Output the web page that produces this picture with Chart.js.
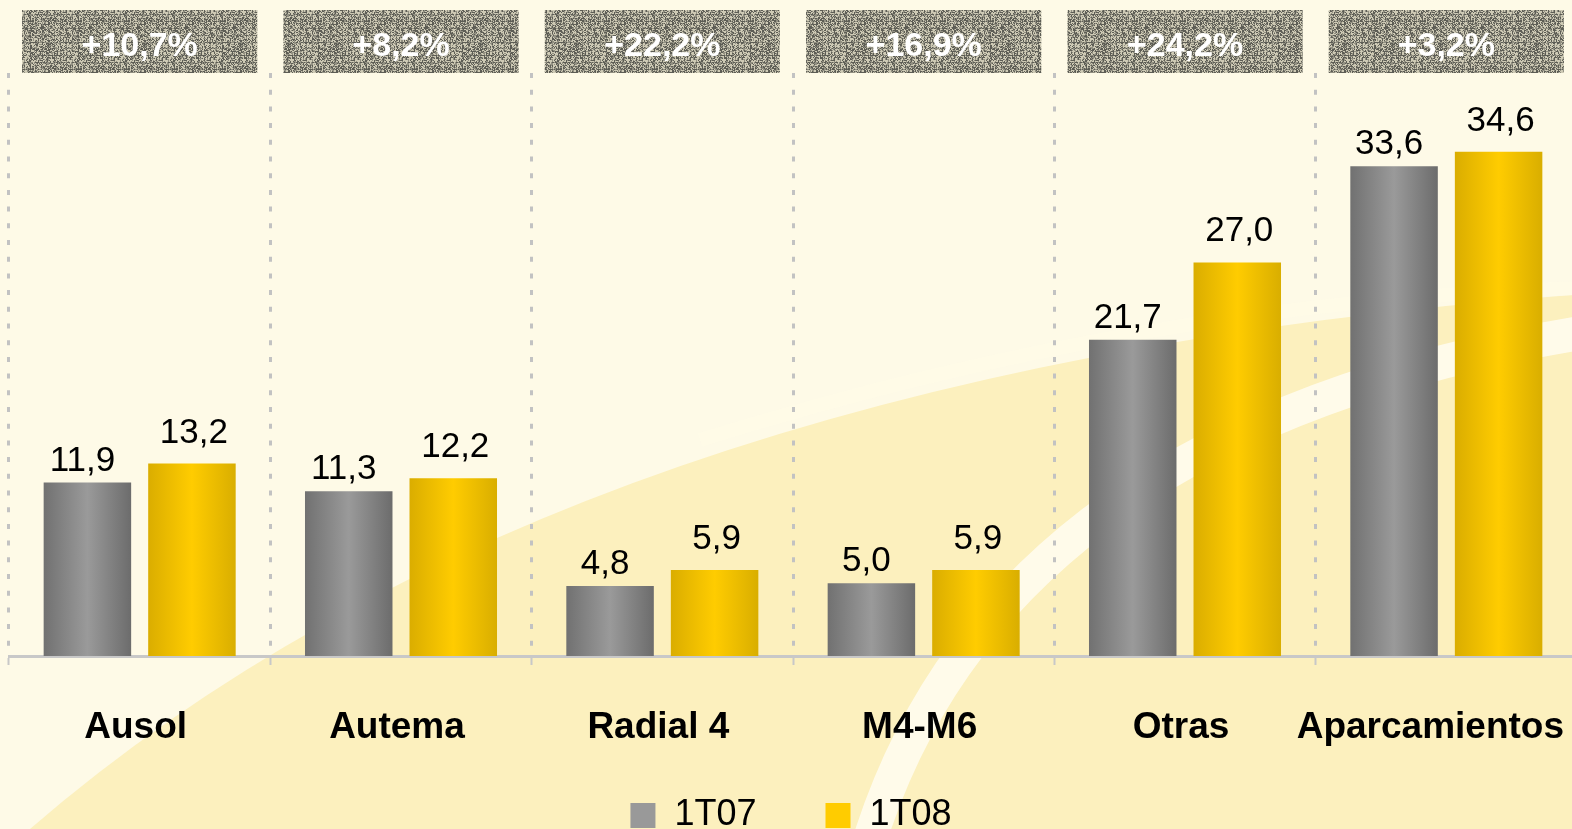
<!DOCTYPE html>
<html>
<head>
<meta charset="utf-8">
<script src="https://cdn.jsdelivr.net/npm/chart.js@4.4.1/dist/chart.umd.min.js"></script>
<style>
  html, body { margin: 0; padding: 0; background: #FEF9E6; overflow: hidden; }
  #wrap { width: 1572px; height: 829px; position: relative; overflow: hidden; }
  canvas { display: block; }
</style>
</head>
<body>
<div id="wrap"><canvas id="c" width="1580" height="829"></canvas></div>
<script>
// ---- data ----
const categories = ['Ausol', 'Autema', 'Radial 4', 'M4-M6', 'Otras', 'Aparcamientos'];
const seriesNames = ['1T07', '1T08'];
const values1T07 = [11.9, 11.3, 4.8, 5.0, 21.7, 33.6];
const values1T08 = [13.2, 12.2, 5.9, 5.9, 27.0, 34.6];
const growthLabels = ['+10,7%', '+8,2%', '+22,2%', '+16,9%', '+24,2%', '+3,2%'];

// ---- style ----
const VIEW_W = 1572;
const CAT_PCT = 0.80;
const BAR_PCT = 0.837;
const legendColors = ['#999999', '#FFCC00'];
const labelGap = [12, 21];
const labelShift = [-5, 2];
const gradStops = [
  [[0, '#717171'], [0.5, '#9A9A9A'], [1, '#6C6C6C']],
  [[0, '#DAAD00'], [0.5, '#FFCC00'], [1, '#D9AE00']]
];

// deterministic texture for the top boxes
function makeTexture() {
  const c = document.createElement('canvas');
  c.width = 48; c.height = 48;
  const g = c.getContext('2d');
  const img = g.createImageData(48, 48);
  for (let y = 0; y < 48; y++) {
    for (let x = 0; x < 48; x++) {
      let h = (x * 374761393 + y * 668265263) | 0;
      h = (h ^ (h >>> 13)) * 1274126177 | 0;
      h = h ^ (h >>> 16);
      let v = ((h >>> 0) % 1000) / 1000;
      if (x % 6 === 0 || y % 7 === 0) v *= 0.6;
      const t = v > 0.55 ? 0.85 : (v > 0.3 ? 0.45 : 0.1);
      const i = (y * 48 + x) * 4;
      img.data[i] = 78 + t * 150;
      img.data[i + 1] = 78 + t * 146;
      img.data[i + 2] = 72 + t * 128;
      img.data[i + 3] = 255;
    }
  }
  g.putImageData(img, 0, 0);
  return c;
}
const texture = makeTexture();

function barGradient(ctx, dsIndex) {
  const chart = ctx.chart;
  if (!chart.chartArea || !chart.scales.x) return legendColors[dsIndex];
  const xs = chart.scales.x;
  const cx = xs.getPixelForValue(ctx.dataIndex);
  const catW = xs.width / categories.length;
  const slot = catW * CAT_PCT / 2;
  const center = cx + (dsIndex === 0 ? -slot / 2 : slot / 2);
  const w = slot * BAR_PCT;
  const g = chart.ctx.createLinearGradient(center - w / 2, 0, center + w / 2, 0);
  gradStops[dsIndex].forEach(s => g.addColorStop(s[0], s[1]));
  return g;
}

const backgroundPlugin = {
  id: 'bg',
  beforeDraw(chart) {
    const c = chart.ctx, W = VIEW_W, H = chart.height;
    c.save();
    c.fillStyle = '#FEFAE7';
    c.fillRect(0, 0, chart.width, H);
    // big yellow swoosh
    c.beginPath();
    c.moveTo(30, H);
    c.quadraticCurveTo(560, 370, W, 295);
    c.lineTo(chart.width, 295);
    c.lineTo(chart.width, H);
    c.closePath();
    c.fillStyle = '#FCF0BE';
    c.fill();
    // light edge at the top of the swoosh
    c.beginPath();
    c.moveTo(700, 440);
    c.quadraticCurveTo(1150, 300, W + 8, 288);
    c.strokeStyle = 'rgba(255,251,232,0.6)';
    c.lineWidth = 14;
    c.stroke();
    // white band
    c.beginPath();
    c.moveTo(870, H + 10);
    c.quadraticCurveTo(1000, 430, W + 8, 333);
    c.strokeStyle = 'rgba(255,252,238,0.9)';
    c.lineWidth = 34;
    c.stroke();
    c.restore();
  }
};

const overlayPlugin = {
  id: 'overlay',
  afterDatasetsDraw(chart) {
    const c = chart.ctx;
    c.save();
    // value labels
    c.font = '35px "Liberation Sans", Arial, sans-serif';
    c.fillStyle = '#000';
    c.textAlign = 'center';
    c.textBaseline = 'alphabetic';
    chart.data.datasets.forEach((ds, di) => {
      chart.getDatasetMeta(di).data.forEach((el, i) => {
        const txt = ds.data[i].toFixed(1).replace('.', ',');
        c.fillText(txt, el.x + labelShift[di], el.y - labelGap[di]);
      });
    });
    c.restore();
  },
  afterDraw(chart) {
    const c = chart.ctx;
    const xs = chart.scales.x;
    const catW = xs.width / categories.length;
    c.save();
    // growth boxes
    const pat = c.createPattern(texture, 'repeat');
    growthLabels.forEach((lab, i) => {
      const cx = xs.getPixelForValue(i);
      const bw = catW * 0.9;
      c.fillStyle = pat;
      c.fillRect(cx - bw / 2, 10, bw, 63);
      c.font = 'bold 34px "Liberation Sans", Arial, sans-serif';
      c.fillStyle = '#FFFFFF';
      c.textAlign = 'center';
      c.textBaseline = 'alphabetic';
      c.fillText(lab, cx, 56);
    });
    // category labels
    c.font = 'bold 37px "Liberation Sans", Arial, sans-serif';
    c.fillStyle = '#000';
    c.textAlign = 'center';
    c.textBaseline = 'alphabetic';
    categories.forEach((lab, i) => {
      const w = c.measureText(lab).width;
      let x = xs.getPixelForValue(i) - 4;
      x = Math.min(x, VIEW_W - 8 - w / 2);
      c.fillText(lab, x, 738);
    });
    // legend
    c.font = '36px "Liberation Sans", Arial, sans-serif';
    const box = 25, gapText = 19, gapItem = 69;
    const widths = seriesNames.map(n => box + gapText + c.measureText(n).width);
    const total = widths.reduce((a, b) => a + b, 0) + gapItem * (seriesNames.length - 1);
    let x = VIEW_W / 2 + 5 - total / 2;
    c.textAlign = 'left';
    seriesNames.forEach((n, i) => {
      c.fillStyle = legendColors[i];
      c.fillRect(x, 803, box, box);
      c.fillStyle = '#000';
      c.fillText(n, x + box + gapText, 825);
      x += widths[i] + gapItem;
    });
    c.restore();
  }
};

new Chart(document.getElementById('c'), {
  type: 'bar',
  data: {
    labels: categories,
    datasets: [
      { label: seriesNames[0], data: values1T07, backgroundColor: ctx => barGradient(ctx, 0) },
      { label: seriesNames[1], data: values1T08, backgroundColor: ctx => barGradient(ctx, 1) }
    ]
  },
  options: {
    responsive: false,
    devicePixelRatio: 1,
    animation: false,
    events: [],
    categoryPercentage: CAT_PCT,
    barPercentage: BAR_PCT,
    layout: { padding: { left: 9, right: 3, top: 73, bottom: 164 } },
    plugins: { legend: { display: false }, tooltip: { enabled: false } },
    scales: {
      x: {
        offset: true,
        grid: {
          display: true,
          offset: true,
          color: '#C2C2C2',
          lineWidth: 3,
          drawTicks: true,
          tickLength: 9,
          tickColor: '#C8C8C8',
          tickWidth: 2
        },
        border: { display: true, color: '#C8C8C8', width: 3, dash: [5, 11.7] },
        ticks: { display: false }
      },
      y: {
        display: false,
        min: 0,
        max: 40
      }
    }
  },
  plugins: [backgroundPlugin, overlayPlugin]
});
</script>
</body>
</html>
